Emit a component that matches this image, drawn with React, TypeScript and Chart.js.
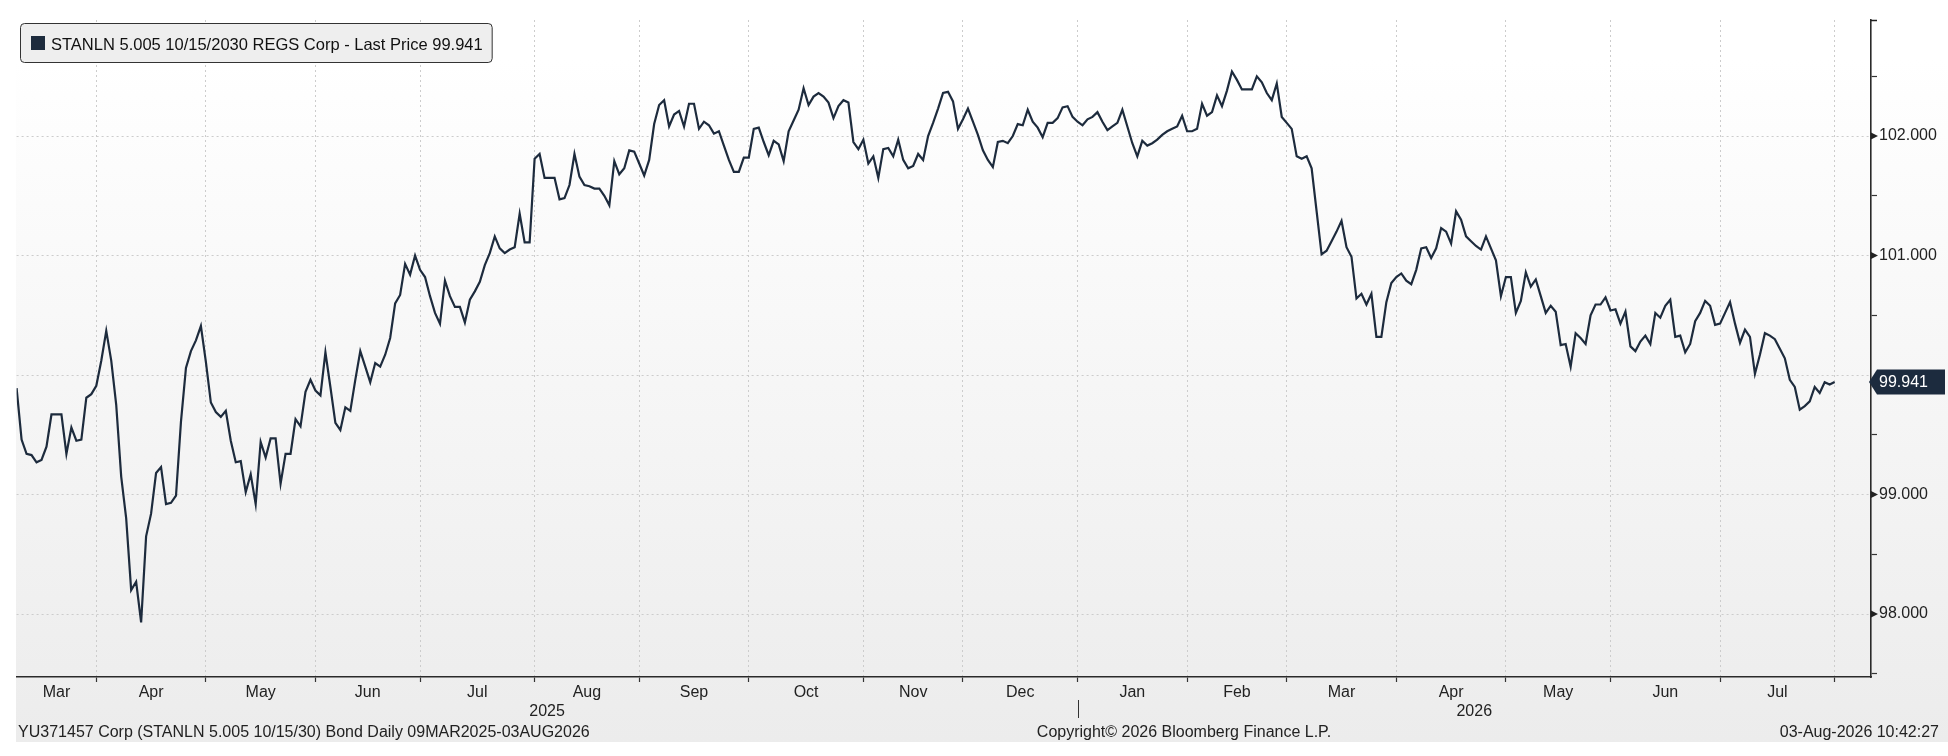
import React, { useEffect, useRef } from 'react';
import { Chart, registerables } from 'chart.js';

Chart.register(...registerables);

const FONT = '"Liberation Sans", Arial, sans-serif';
const LINE_COLOR = '#1d2b3d';
const TEXT_COLOR = '#222222';

const LEGEND_TEXT = 'STANLN 5.005 10/15/2030 REGS Corp - Last Price 99.941';
const FOOTER_LEFT = 'YU371457 Corp (STANLN 5.005 10/15/30) Bond Daily 09MAR2025-03AUG2026';
const FOOTER_CENTER = 'Copyright\u00A9 2026 Bloomberg Finance L.P.';
const FOOTER_RIGHT = '03-Aug-2026 10:42:27';
const LAST_PRICE = 99.941;

const START_DATE = '2025-03-10';
const END_DATE = '2026-08-03';
const MONTH_NAMES = ['Jan', 'Feb', 'Mar', 'Apr', 'May', 'Jun', 'Jul', 'Aug', 'Sep', 'Oct', 'Nov', 'Dec'];

const Y_MAJOR = [98, 99, 100, 101, 102];
const Y_MINOR = [97.5, 98.5, 99.5, 100.5, 101.5, 102.5];
const Y_MIN = 97.473;
const Y_MAX = 102.971;
const X_PAD_DAYS = 7.3;

// Daily (business-day) last prices
const PX_2025_MAR_MAY = [
  99.89, 99.46, 99.34, 99.33, 99.27, 99.29, 99.40, 99.67, 99.67, 99.67,
  99.34, 99.56, 99.45, 99.46, 99.81, 99.84, 99.91, 100.12, 100.37, 100.12,
  99.75, 99.15, 98.80, 98.20, 98.27, 97.93, 98.65, 98.84, 99.18, 99.23,
  98.92, 98.93, 98.99, 99.61, 100.06, 100.20, 100.29, 100.41, 100.11, 99.77,
  99.69, 99.65, 99.70, 99.45, 99.27, 99.28, 99.02, 99.17, 98.92, 99.44,
  99.31, 99.47, 99.47, 99.09, 99.34, 99.34, 99.63, 99.57, 99.86, 99.96,
];
const PX_2025_JUN_AUG = [
  99.87, 99.83, 100.19, 99.90, 99.60, 99.54, 99.73, 99.70, 99.96, 100.20,
  100.07, 99.94, 100.10, 100.07, 100.17, 100.31, 100.60, 100.67, 100.93, 100.84,
  101.00, 100.88, 100.82, 100.66, 100.52, 100.43, 100.79, 100.66, 100.57, 100.57,
  100.44, 100.63, 100.70, 100.78, 100.92, 101.02, 101.16, 101.06, 101.02, 101.05,
  101.07, 101.35, 101.11, 101.11, 101.81, 101.85, 101.65, 101.65, 101.65, 101.47,
  101.48, 101.59, 101.85, 101.66, 101.59, 101.58, 101.56, 101.56, 101.50, 101.42,
  101.79, 101.68, 101.73, 101.88, 101.87,
];
const PX_2025_SEP_NOV = [
  101.77, 101.67, 101.80, 102.10, 102.26, 102.30, 102.08, 102.18, 102.21, 102.08,
  102.27, 102.27, 102.06, 102.12, 102.09, 102.02, 102.04, 101.92, 101.80, 101.70,
  101.70, 101.82, 101.82, 102.06, 102.07, 101.95, 101.84, 101.96, 101.93, 101.79,
  102.04, 102.13, 102.22, 102.40, 102.26, 102.33, 102.36, 102.33, 102.28, 102.15,
  102.25, 102.30, 102.28, 101.95, 101.89, 101.97, 101.77, 101.83, 101.65, 101.89,
  101.90, 101.83, 101.97, 101.80, 101.73, 101.75, 101.85, 101.80, 102.00, 102.11,
  102.23, 102.36, 102.37, 102.29, 102.06,
];
const PX_2025_DEC_2026_FEB = [
  102.14, 102.23, 102.12, 102.01, 101.88, 101.80, 101.74, 101.95, 101.96, 101.94,
  102.00, 102.10, 102.09, 102.22, 102.12, 102.07, 101.99, 102.11, 102.11, 102.15,
  102.24, 102.25, 102.16, 102.12, 102.09, 102.14, 102.16, 102.20, 102.12, 102.05,
  102.08, 102.11, 102.22, 102.08, 101.94, 101.83, 101.96, 101.92, 101.94, 101.97,
  102.01, 102.04, 102.06, 102.08, 102.17, 102.04, 102.04, 102.06, 102.27, 102.17,
  102.20, 102.34, 102.25, 102.38, 102.54, 102.47, 102.39, 102.39, 102.39, 102.50,
  102.45, 102.36, 102.30, 102.44, 102.16,
];
const PX_2026_MAR_MAY = [
  102.11, 102.06, 101.83, 101.81, 101.83, 101.73, 101.37, 101.01, 101.04, 101.12,
  101.20, 101.29, 101.07, 100.99, 100.64, 100.68, 100.59, 100.68, 100.32, 100.32,
  100.61, 100.77, 100.82, 100.85, 100.79, 100.76, 100.88, 101.06, 101.07, 100.98,
  101.06, 101.23, 101.20, 101.10, 101.37, 101.30, 101.16, 101.12, 101.08, 101.05,
  101.16, 101.06, 100.96, 100.66, 100.82, 100.82, 100.52, 100.62, 100.86, 100.74,
  100.80, 100.66, 100.52, 100.58, 100.53, 100.25, 100.26, 100.07, 100.35, 100.31,
  100.26, 100.50, 100.59, 100.59, 100.65,
];
const PX_2026_JUN_AUG = [
  100.54, 100.55, 100.43, 100.53, 100.24, 100.20, 100.28, 100.33, 100.26, 100.52,
  100.48, 100.58, 100.63, 100.32, 100.33, 100.19, 100.26, 100.45, 100.52, 100.62,
  100.58, 100.42, 100.43, 100.52, 100.61, 100.43, 100.27, 100.38, 100.32, 100.01,
  100.17, 100.35, 100.33, 100.30, 100.22, 100.14, 99.96, 99.90, 99.71, 99.74,
  99.78, 99.90, 99.85, 99.94, 99.92, 99.941,
];

const PRICES = [
  ...PX_2025_MAR_MAY,
  ...PX_2025_JUN_AUG,
  ...PX_2025_SEP_NOV,
  ...PX_2025_DEC_2026_FEB,
  ...PX_2026_MAR_MAY,
  ...PX_2026_JUN_AUG,
];

function businessDays(start: string, end: string): Date[] {
  const out: Date[] = [];
  const d = new Date(start + 'T00:00:00Z');
  const e = new Date(end + 'T00:00:00Z');
  while (d.getTime() <= e.getTime()) {
    const wd = d.getUTCDay();
    if (wd !== 0 && wd !== 6) out.push(new Date(d.getTime()));
    d.setUTCDate(d.getUTCDate() + 1);
  }
  return out;
}

const isMajor = (v: number) => Math.abs(v - Math.round(v)) < 1e-6;
const hiddenByTag = (v: number) => Math.abs(v - LAST_PRICE) < 0.2;

export default function App() {
  const canvasRef = useRef<HTMLCanvasElement | null>(null);

  useEffect(() => {
    const canvas = canvasRef.current;
    if (!canvas) return;
    document.body.style.overflow = 'hidden';

    const dates = businessDays(START_DATE, END_DATE);
    const n = Math.min(dates.length, PRICES.length);
    const points = PRICES.slice(0, n).map((v, i) => ({ x: i, y: v }));
    const lastIdx = n - 1;
    const xMax = lastIdx + X_PAD_DAYS;

    // month segments
    const monthStarts: number[] = [];
    const segs: { start: number; month: number; year: number }[] = [];
    for (let i = 0; i < n; i++) {
      const m = dates[i].getUTCMonth();
      const y = dates[i].getUTCFullYear();
      if (i === 0 || m !== dates[i - 1].getUTCMonth()) {
        segs.push({ start: i, month: m, year: y });
        if (i > 0) monthStarts.push(i);
      }
    }
    const yearSegs: { start: number; year: number }[] = [];
    for (let i = 0; i < n; i++) {
      const y = dates[i].getUTCFullYear();
      if (i === 0 || y !== dates[i - 1].getUTCFullYear()) yearSegs.push({ start: i, year: y });
    }

    const decor = {
      id: 'decor',
      beforeDraw(chart: any) {
        const { ctx, width, height, chartArea } = chart;
        ctx.save();
        ctx.fillStyle = '#ffffff';
        ctx.fillRect(0, 0, width, height);
        const panelBottom = chartArea.bottom + 65;
        const g = ctx.createLinearGradient(0, 0, 0, panelBottom);
        g.addColorStop(0, '#ffffff');
        g.addColorStop(0.08, '#ffffff');
        g.addColorStop(1, '#ececec');
        ctx.fillStyle = g;
        ctx.fillRect(Math.floor(chartArea.left), 0, width - Math.floor(chartArea.left), panelBottom);
        ctx.restore();
      },
      afterDraw(chart: any) {
        const { ctx, chartArea } = chart;
        const xs = chart.scales.x;
        const ys = chart.scales.y;
        ctx.save();
        ctx.fillStyle = TEXT_COLOR;
        ctx.font = `16px ${FONT}`;
        ctx.textBaseline = 'alphabetic';
        ctx.textAlign = 'center';

        // month labels
        for (let s = 0; s < segs.length; s++) {
          const start = segs[s].start;
          const end = s + 1 < segs.length ? segs[s + 1].start : n;
          if (end - start < 5) continue;
          const x = xs.getPixelForValue((start + end) / 2);
          ctx.fillText(MONTH_NAMES[segs[s].month], x, xs.top + 20);
        }
        // year labels
        for (let s = 0; s < yearSegs.length; s++) {
          const start = yearSegs[s].start;
          const end = s + 1 < yearSegs.length ? yearSegs[s + 1].start : xMax;
          const x = xs.getPixelForValue((start + end) / 2);
          ctx.fillText(String(yearSegs[s].year), x, xs.top + 39);
          if (s > 0) {
            const sx = Math.round(xs.getPixelForValue(start)) + 0.5;
            ctx.strokeStyle = '#333';
            ctx.lineWidth = 1;
            ctx.beginPath();
            ctx.moveTo(sx, xs.top + 23);
            ctx.lineTo(sx, xs.top + 41);
            ctx.stroke();
          }
        }
        // footer
        const fy = xs.top + 60;
        ctx.textAlign = 'left';
        ctx.fillText(FOOTER_LEFT, chartArea.left + 1.5, fy);
        ctx.textAlign = 'center';
        ctx.fillText(FOOTER_CENTER, 1184, fy);
        ctx.textAlign = 'right';
        ctx.fillText(FOOTER_RIGHT, chart.width - 9, fy);

        // y-axis major tick triangles and top cap
        const ax = ys.left;
        ctx.fillStyle = '#222';
        for (const v of Y_MAJOR) {
          if (hiddenByTag(v)) continue;
          const py = ys.getPixelForValue(v);
          ctx.beginPath();
          ctx.moveTo(ax, py - 3.5);
          ctx.lineTo(ax + 7, py);
          ctx.lineTo(ax, py + 3.5);
          ctx.closePath();
          ctx.fill();
        }
        ctx.strokeStyle = '#222';
        ctx.lineWidth = 1.5;
        ctx.beginPath();
        ctx.moveTo(ax, chartArea.top + 0.5);
        ctx.lineTo(ax + 6, chartArea.top + 0.5);
        ctx.stroke();

        // last price tag
        const ly = ys.getPixelForValue(LAST_PRICE);
        ctx.fillStyle = '#1c2b3e';
        ctx.beginPath();
        ctx.moveTo(ax - 2, ly);
        ctx.lineTo(ax + 6, ly - 12.5);
        ctx.lineTo(chart.width - 3, ly - 12.5);
        ctx.lineTo(chart.width - 3, ly + 12.5);
        ctx.lineTo(ax + 6, ly + 12.5);
        ctx.closePath();
        ctx.fill();
        ctx.fillStyle = '#ffffff';
        ctx.font = `16px ${FONT}`;
        ctx.textAlign = 'left';
        ctx.textBaseline = 'middle';
        ctx.fillText(LAST_PRICE.toFixed(3), ax + 8, ly + 1);

        // legend box
        ctx.font = `16.5px ${FONT}`;
        const tw = ctx.measureText(LEGEND_TEXT).width;
        const bx = 20.5;
        const by = 23.5;
        const bw = 31 + tw + 9;
        const bh = 39;
        const r = 4;
        ctx.beginPath();
        ctx.moveTo(bx + r, by);
        ctx.lineTo(bx + bw - r, by);
        ctx.quadraticCurveTo(bx + bw, by, bx + bw, by + r);
        ctx.lineTo(bx + bw, by + bh - r);
        ctx.quadraticCurveTo(bx + bw, by + bh, bx + bw - r, by + bh);
        ctx.lineTo(bx + r, by + bh);
        ctx.quadraticCurveTo(bx, by + bh, bx, by + bh - r);
        ctx.lineTo(bx, by + r);
        ctx.quadraticCurveTo(bx, by, bx + r, by);
        ctx.closePath();
        ctx.fillStyle = '#eeeeee';
        ctx.fill();
        ctx.strokeStyle = '#333333';
        ctx.lineWidth = 1;
        ctx.stroke();
        ctx.fillStyle = LINE_COLOR;
        ctx.fillRect(31, 36, 14, 14);
        ctx.fillStyle = '#111111';
        ctx.textBaseline = 'alphabetic';
        ctx.textAlign = 'left';
        ctx.fillText(LEGEND_TEXT, 51, 50);
        ctx.restore();
      },
    };

    const chart = new Chart(canvas, {
      type: 'line',
      data: {
        datasets: [
          {
            label: 'STANLN 5.005 10/15/2030 REGS Corp',
            data: points,
            borderColor: LINE_COLOR,
            borderWidth: 2.2,
            pointRadius: 0,
            tension: 0,
            fill: false,
          },
        ],
      },
      options: {
        animation: false,
        responsive: false,
        events: [],
        layout: { padding: { left: 16.6, top: 20, right: 0, bottom: 0 } },
        plugins: { legend: { display: false }, tooltip: { enabled: false } },
        scales: {
          x: {
            type: 'linear',
            position: 'bottom',
            min: 0,
            max: xMax,
            afterBuildTicks: (s: any) => {
              s.ticks = monthStarts.map((v) => ({ value: v }));
            },
            afterFit: (s: any) => {
              s.height = 79;
            },
            ticks: { autoSkip: false, maxRotation: 0, callback: () => '' },
            grid: {
              color: '#cccccc',
              lineWidth: 1,
              drawTicks: true,
              tickLength: 5,
              tickColor: '#333333',
              tickWidth: 1.2,
            },
            border: { display: true, color: '#2a2a2a', width: 1.6, dash: [2, 3] },
          },
          y: {
            type: 'linear',
            position: 'right',
            min: Y_MIN,
            max: Y_MAX,
            afterBuildTicks: (s: any) => {
              s.ticks = [...Y_MINOR, ...Y_MAJOR].sort((a, b) => a - b).map((v) => ({ value: v }));
            },
            afterFit: (s: any) => {
              s.width = 77;
            },
            ticks: {
              autoSkip: false,
              padding: 2,
              color: TEXT_COLOR,
              font: { family: FONT, size: 16 },
              callback: (v: any) => {
                const num = Number(v);
                return isMajor(num) && !hiddenByTag(num) ? num.toFixed(3) : '';
              },
            },
            grid: {
              color: (c: any) => (c.tick && isMajor(c.tick.value) ? '#cccccc' : 'rgba(0,0,0,0)'),
              lineWidth: 1,
              drawTicks: true,
              tickLength: 6,
              tickColor: (c: any) => (c.tick && isMajor(c.tick.value) ? 'rgba(0,0,0,0)' : '#333333'),
              tickWidth: 1.2,
            },
            border: { display: true, color: '#2a2a2a', width: 1.6, dash: [2, 3] },
          },
        },
      },
      plugins: [decor],
    } as any);

    return () => {
      chart.destroy();
    };
  }, []);

  return (
    <div style={{ position: 'absolute', left: 0, top: 0, width: 1948, height: 756 }}>
      <canvas ref={canvasRef} width={1948} height={756} style={{ display: 'block', width: 1948, height: 756 }} />
    </div>
  );
}
